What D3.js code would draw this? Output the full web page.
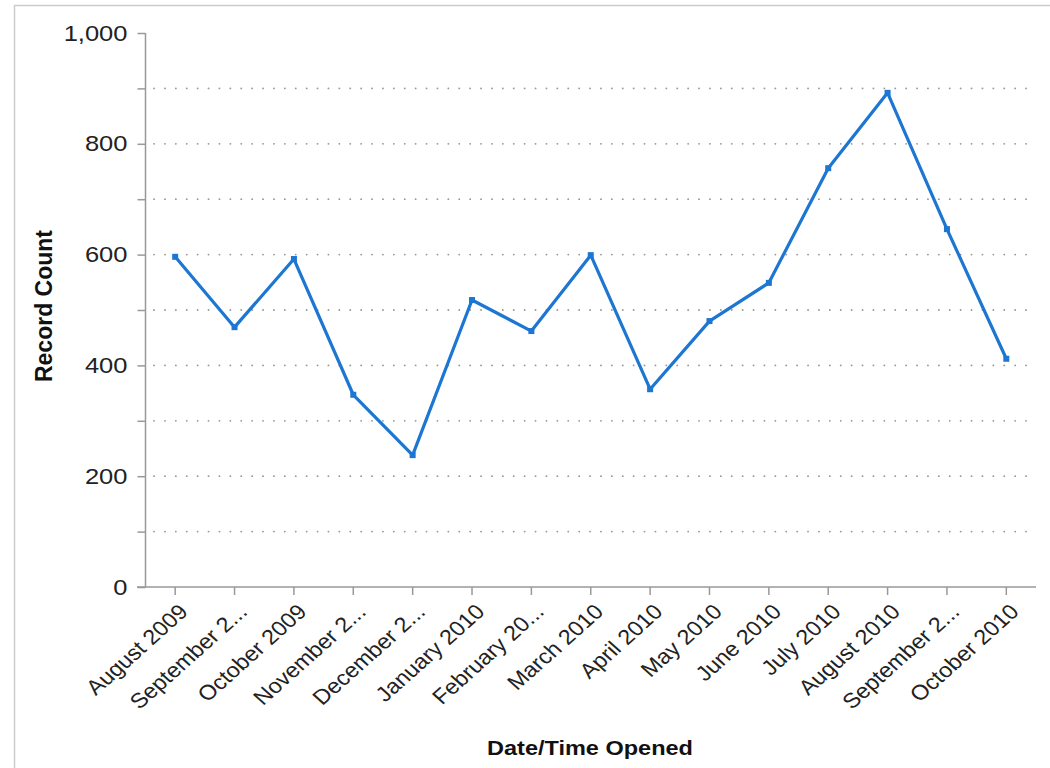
<!DOCTYPE html>
<html>
<head>
<meta charset="utf-8">
<script src="https://cdn.jsdelivr.net/npm/d3@7"></script>
<style>
  body { margin: 0; background: #fff; }
  svg { font-family: "Liberation Sans", Arial, sans-serif; }
</style>
</head>
<body>
<div id="chart"></div>
<script>
// Record counts per month
var months = ["August 2009", "September 2...", "October 2009", "November 2...", "December 2...",
              "January 2010", "February 20...", "March 2010", "April 2010", "May 2010",
              "June 2010", "July 2010", "August 2010", "September 2...", "October 2010"];
var counts = [596, 469, 592, 347, 238, 518, 462, 599, 357, 480, 549, 756, 892, 646, 412];
var yTicks = [0, 100, 200, 300, 400, 500, 600, 700, 800, 900, 1000];

var svg = d3.select("#chart")
    .append("svg")
    .attr("width", 1050)
    .attr("height", 768);

// frame
svg.append("rect")
    .attr("x", 14.5)
    .attr("y", 5.5)
    .attr("width", 1100)
    .attr("height", 800)
    .attr("fill", "none")
    .attr("stroke", "#ccc")
    .attr("stroke-width", 1.5);

// labels repeat ("September 2..."), so the band scale works on indexes
var x = d3.scaleBand()
    .domain(d3.range(months.length))
    .range([145.5, 1036]);

var y = d3.scaleLinear()
    .domain([0, 1000])
    .range([587, 33]);

// dotted gridlines
svg.selectAll(".grid")
    .data(yTicks.filter(function(d) { return d > 0 && d < 1000; }))
    .enter().append("line")
    .attr("class", "grid")
    .attr("x1", 154)
    .attr("x2", 1036)
    .attr("y1", function(d) { return y(d); })
    .attr("y2", function(d) { return y(d); })
    .attr("stroke", "#999")
    .attr("stroke-width", 1.8)
    .attr("stroke-linecap", "round")
    .attr("stroke-dasharray", "0.1,10.8");

// y axis
var yAxis = svg.append("g")
    .attr("transform", "translate(145.5,0)")
    .call(d3.axisLeft(y)
        .tickValues(yTicks)
        .tickSize(8)
        .tickPadding(10)
        .tickFormat(function(d) { return d % 200 === 0 ? d3.format(",")(d) : ""; }));
yAxis.select(".domain").attr("d", "M0," + y(1000) + "V" + y(0));
yAxis.selectAll("line, path").attr("stroke", "#999").attr("stroke-width", 1.5);
yAxis.selectAll("text")
    .attr("x", 0)
    .attr("transform", "translate(-18,0) scale(1.16,1)")
    .style("font-size", "22px")
    .attr("fill", "#222");

// x axis
var xAxis = svg.append("g")
    .attr("transform", "translate(0,587)")
    .call(d3.axisBottom(x)
        .tickSize(8)
        .tickSizeOuter(0)
        .tickFormat(function(i) { return months[i]; }));
xAxis.select(".domain").attr("d", "M137,0H1036");
xAxis.selectAll("line, path").attr("stroke", "#999").attr("stroke-width", 1.5);
xAxis.selectAll("text")
    .attr("text-anchor", "end")
    .attr("y", 0)
    .attr("dy", 0)
    .attr("transform", "translate(14,26) scale(1.12,1) rotate(-45)")
    .style("font-size", "21px")
    .attr("fill", "#222");

// line
var line = d3.line()
    .x(function(d, i) { return x(i) + x.bandwidth() / 2; })
    .y(function(d) { return y(d); });

svg.append("path")
    .datum(counts)
    .attr("fill", "none")
    .attr("stroke", "#1c76d2")
    .attr("stroke-width", 3.2)
    .attr("stroke-linejoin", "round")
    .attr("d", line);

svg.selectAll(".pt")
    .data(counts)
    .enter().append("rect")
    .attr("class", "pt")
    .attr("x", function(d, i) { return x(i) + x.bandwidth() / 2 - 3; })
    .attr("y", function(d) { return y(d) - 3; })
    .attr("width", 6)
    .attr("height", 6)
    .attr("fill", "#1c76d2");

// axis titles
svg.append("text")
    .attr("transform", "translate(590,755) scale(1.12,1)")
    .attr("text-anchor", "middle")
    .style("font-size", "21px")
    .style("font-weight", "bold")
    .attr("fill", "#111")
    .text("Date/Time Opened");

svg.append("text")
    .attr("transform", "translate(52,306) rotate(-90)")
    .attr("text-anchor", "middle")
    .style("font-size", "23px")
    .style("font-weight", "bold")
    .attr("fill", "#111")
    .text("Record Count");
</script>
</body>
</html>
